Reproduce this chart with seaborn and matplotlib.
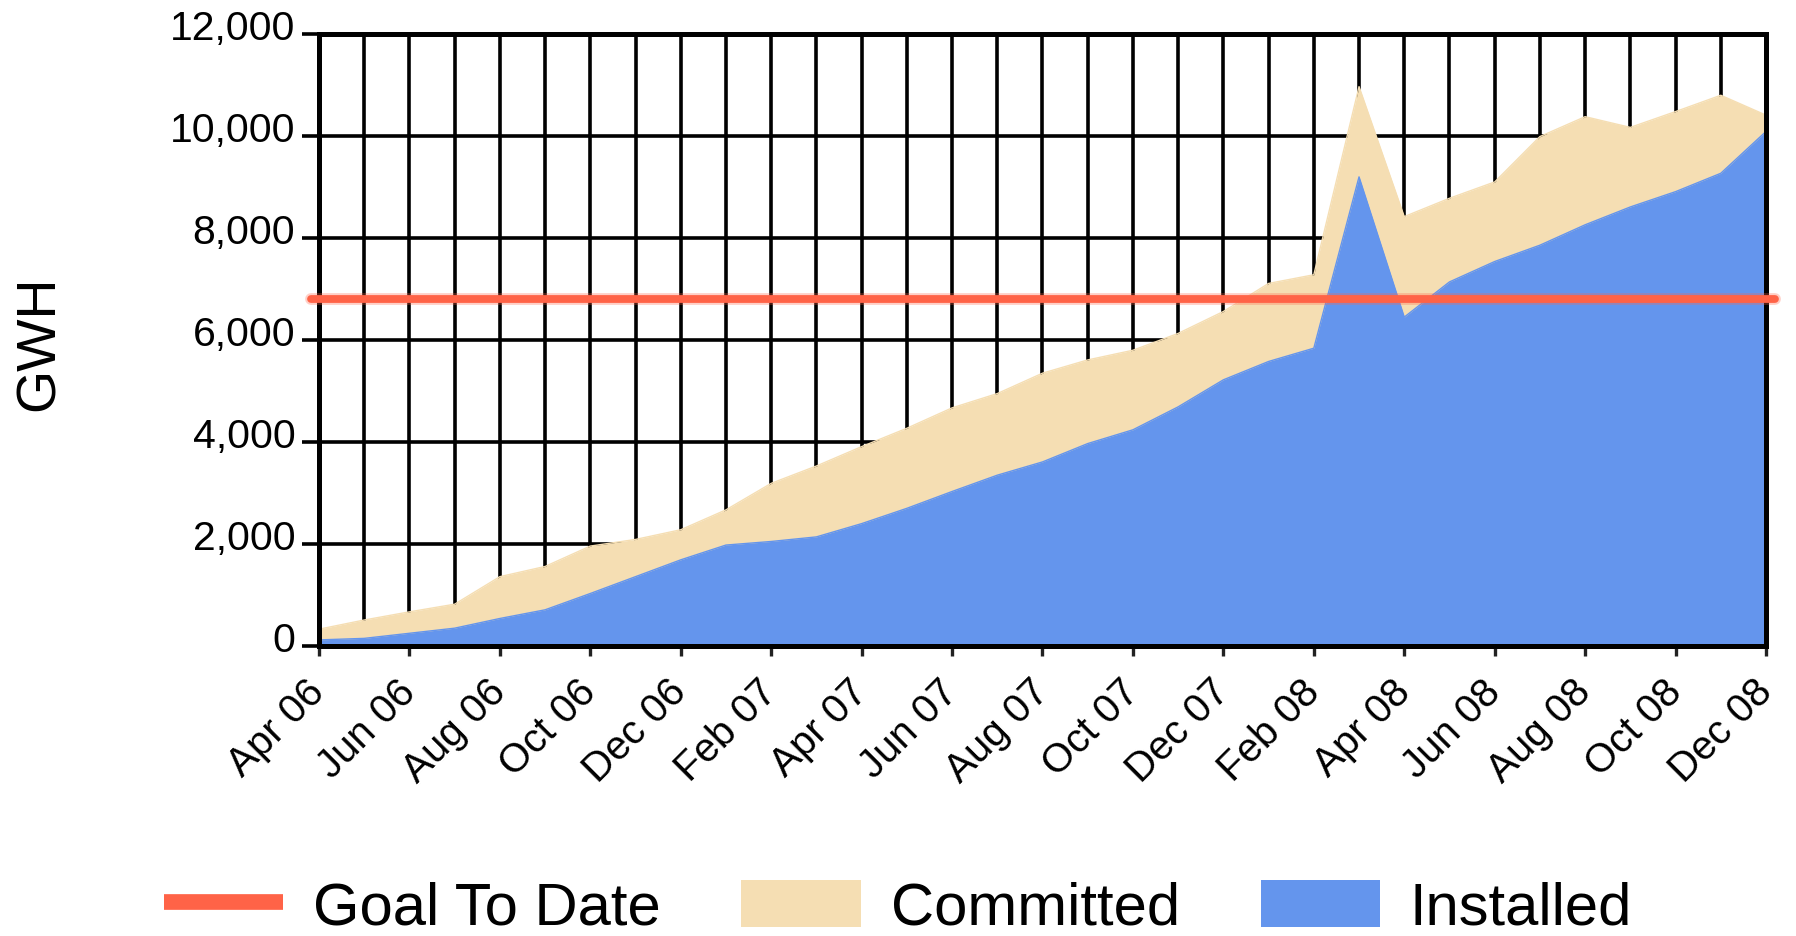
import numpy as np
import matplotlib
matplotlib.use("Agg")
import matplotlib.pyplot as plt
import matplotlib.ticker as mticker
from matplotlib.lines import Line2D
from matplotlib.patches import Patch
from matplotlib.transforms import ScaledTranslation
import seaborn as sns

# ==============================================================================
# DATOS (GWH por mes, abr 2006 - dic 2008)
# ==============================================================================
meses = ["Apr 06", "May 06", "Jun 06", "Jul 06", "Aug 06", "Sep 06", "Oct 06",
         "Nov 06", "Dec 06", "Jan 07", "Feb 07", "Mar 07", "Apr 07", "May 07",
         "Jun 07", "Jul 07", "Aug 07", "Sep 07", "Oct 07", "Nov 07", "Dec 07",
         "Jan 08", "Feb 08", "Mar 08", "Apr 08", "May 08", "Jun 08", "Jul 08",
         "Aug 08", "Sep 08", "Oct 08", "Nov 08", "Dec 08"]

installed = [120, 150, 250, 350, 540, 710, 1030, 1360, 1690, 1980, 2050,
             2140, 2400, 2700, 3030, 3350, 3610, 3970, 4240, 4690, 5220,
             5580, 5840, 9200, 6450, 7140, 7540, 7860, 8260, 8610, 8910,
             9270, 10090]

committed = [210, 360, 420, 470, 820, 850, 930, 730, 590, 690, 1140,
             1390, 1510, 1570, 1640, 1600, 1740, 1640, 1560, 1440, 1340,
             1530, 1440, 1770, 1970, 1640, 1560, 2130, 2120, 1560, 1570,
             1530, 320]

goal_to_date = 6800

y_ticks = [0, 2000, 4000, 6000, 8000, 10000, 12000]

# colores
c_goal = "#FF6347"
c_comm = "#F5DEB3"
c_inst = "#6495ED"

# ==============================================================================
# ESTILO
# ==============================================================================
sns.set_style("white")
plt.rcParams['font.family'] = ['Liberation Sans', 'DejaVu Sans']
plt.rcParams['text.color'] = 'black'
plt.rcParams['xtick.color'] = 'black'
plt.rcParams['ytick.color'] = 'black'

x = np.arange(len(meses))
inst = np.array(installed, dtype=float)
total = inst + np.array(committed, dtype=float)

fig = plt.figure(figsize=(17.96, 9.36), dpi=100)
ax = fig.add_axes([0.1776, 0.3098, 0.8057, 0.6538])

# --- areas apiladas ---
ax.fill_between(x, 0, total, color=c_comm, lw=0, zorder=1)
ax.fill_between(x, 0, inst, color=c_inst, lw=0, zorder=1.1)
sns.lineplot(x=x, y=total, color=c_comm, lw=1, ax=ax, zorder=1.05)
sns.lineplot(x=x, y=inst, color=c_inst, lw=1, ax=ax, zorder=1.15)

# --- meta (con un halo claro como en el original) ---
ax.axhline(goal_to_date, xmin=-0.0055, xmax=1.006, color=c_goal, lw=8.5,
           alpha=0.3, clip_on=False, zorder=5)
ax.axhline(goal_to_date, xmin=-0.0055, xmax=1.006, color=c_goal, lw=5.6,
           clip_on=False, zorder=5.1)

# --- ejes ---
ax.set_xlim(0, len(meses) - 1)
ax.set_ylim(0, 12000)
ax.set_xticks(x[::2])
ax.set_xticklabels(meses[::2], fontsize=29, rotation=45, ha='right',
                   va='center', rotation_mode='anchor', color='black')
ax.set_xticks(x, minor=True)
ax.set_yticks(y_ticks)
ax.yaxis.set_major_formatter(mticker.StrMethodFormatter('{x:,.0f}'))
ax.tick_params(axis='y', labelsize=29.5, length=12, width=2.6, color='black',
               labelcolor='black', pad=5, left=True)
ax.tick_params(axis='x', which='major', length=7, width=2.4, color='#222222',
               pad=22, bottom=True)
ax.tick_params(axis='x', which='minor', length=0)

ax.set_axisbelow(True)
ax.grid(True, axis='x', which='both', color='black', lw=2.6)
ax.grid(True, axis='y', which='major', color='black', lw=2.6)
for s in ax.spines.values():
    s.set_visible(True)
    s.set_color('black')
    s.set_linewidth(3.6)
    s.set_zorder(4)

# etiquetas del eje y un poco por encima de la linea
off = ScaledTranslation(0, 9 / 100, fig.dpi_scale_trans)
for lbl in ax.get_yticklabels():
    lbl.set_transform(lbl.get_transform() + off)

ax.set_ylabel("")
fig.text(40 / 1796, 1 - 343 / 936, "GWH", rotation=90, fontsize=40,
         ha='center', va='center', color='black')

# --- leyenda ---
handles = [
    Line2D([0], [0], color=c_goal, lw=11.3, solid_capstyle='butt'),
    Patch(facecolor=c_comm, edgecolor='none'),
    Patch(facecolor=c_inst, edgecolor='none'),
]
fig.legend(handles, ["Goal To Date", "Committed", "Installed"], ncol=3,
           loc='center', bbox_to_anchor=(0.5, 0.03), frameon=False,
           fontsize=43, handlelength=2.0, handleheight=0.85,
           handletextpad=0.5, columnspacing=1.35, borderpad=0, borderaxespad=0,
           labelcolor='black')

plt.savefig("out.png", dpi=100)
